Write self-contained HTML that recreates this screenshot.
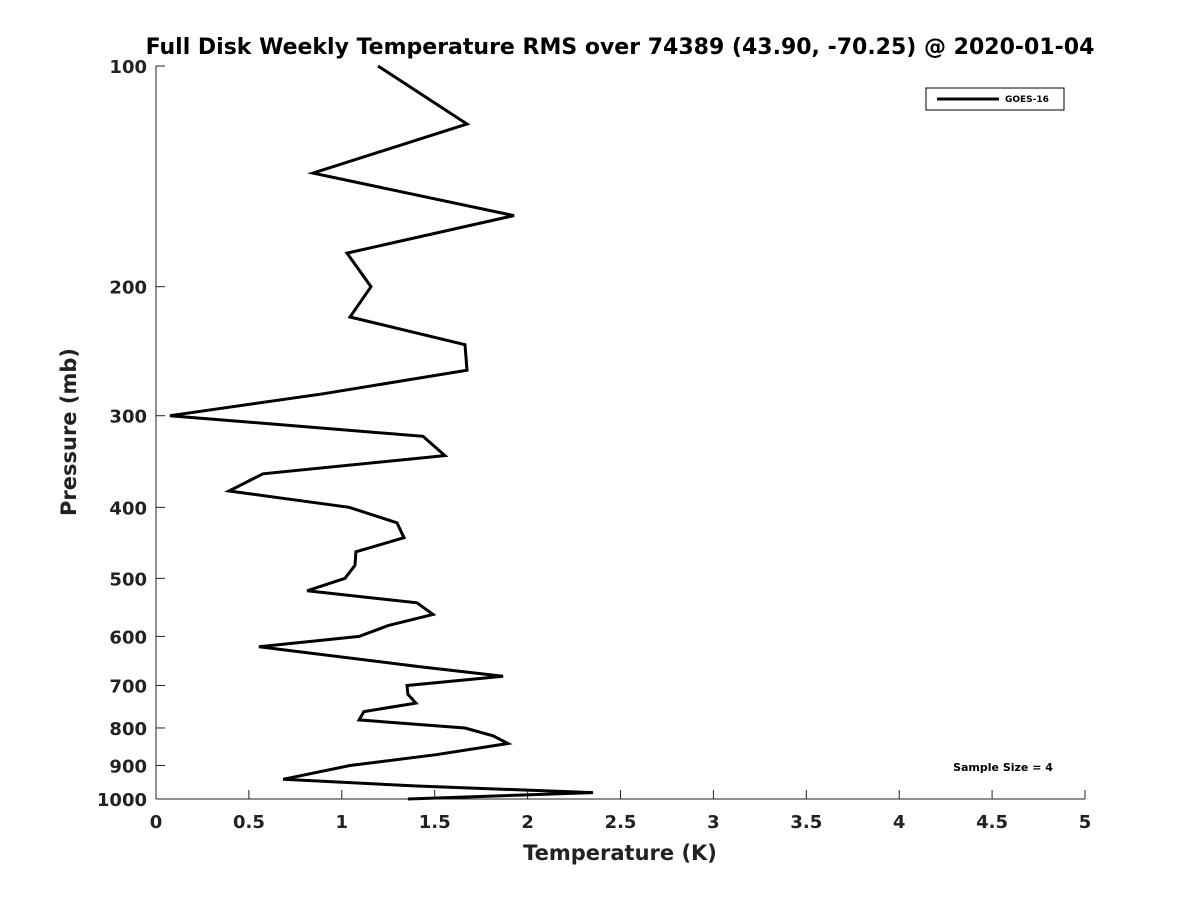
<!DOCTYPE html>
<html><head><meta charset="utf-8"><style>
body{margin:0;background:#fff}
svg{font-family:"DejaVu Sans","Liberation Sans",sans-serif;font-weight:bold}
</style></head><body>
<svg id="chart" width="1200" height="900" xmlns="http://www.w3.org/2000/svg">
<rect width="1200" height="900" fill="#fff"/>
<text x="620" y="54" text-anchor="middle" font-size="22" fill="#000">Full Disk Weekly Temperature RMS over 74389 (43.90, -70.25) @ 2020-01-04</text>
<g id="axes"></g>
<path id="series" fill="none" stroke="#000" stroke-width="3" stroke-linejoin="miter"/>
<g>
<rect x="926" y="88" width="138" height="22" fill="#fff" stroke="#000" stroke-width="1"/>
<line x1="937" y1="99" x2="999" y2="99" stroke="#000" stroke-width="3"/>
<text x="1005" y="102" font-size="9" fill="#000">GOES-16</text>
</g>
<text x="1003" y="771" text-anchor="middle" font-size="11" fill="#000">Sample Size = 4</text>
<text x="620" y="860" text-anchor="middle" font-size="21" fill="#222">Temperature (K)</text>
<text transform="translate(76,432) rotate(-90)" text-anchor="middle" font-size="21" fill="#222">Pressure (mb)</text>
</svg>
<script>
const pressures=[100,120,140,160,180,200,220,240,260,280,300,320,340,360,380,400,420,440,460,480,500,520,540,560,580,600,620,660,680,700,720,740,760,780,800,820,840,870,900,940,960,980,1000];
const temps=[1.195,1.674,0.845,1.927,1.028,1.157,1.044,1.663,1.674,0.899,0.075,1.437,1.555,0.576,0.393,1.039,1.297,1.335,1.076,1.071,1.017,0.813,1.405,1.491,1.249,1.093,0.554,1.421,1.868,1.351,1.356,1.399,1.119,1.093,1.663,1.814,1.894,1.507,1.044,0.684,1.405,2.352,1.356];
const xTicks=[0,0.5,1,1.5,2,2.5,3,3.5,4,4.5,5];
const xTickLabels=["0","0.5","1","1.5","2","2.5","3","3.5","4","4.5","5"];
const yTicks=[100,200,300,400,500,600,700,800,900,1000];
const yTickLabels=["100","200","300","400","500","600","700","800","900","1000"];
const L=156,R=1085,T=66,B=799;
const xs=v=>L+(v-0)/(5-0)*(R-L);
const ys=p=>T+(Math.log10(p)-2)/1*(B-T);
const NS="http://www.w3.org/2000/svg";
const ax=document.getElementById('axes');
function mk(tag,attrs,txt){const e=document.createElementNS(NS,tag);for(const k in attrs)e.setAttribute(k,attrs[k]);if(txt!==undefined)e.textContent=txt;ax.appendChild(e);return e;}
let e=mk('line',{x1:L,y1:B,x2:R,y2:B,stroke:'#222','stroke-width':1});


e=mk('line',{x1:L,y1:T,x2:L,y2:B,stroke:'#222','stroke-width':1});


xTicks.forEach((v,i)=>{const x=xs(v);
 let t=mk('line',{x1:x,y1:B,x2:x,y2:B-9,stroke:'#222','stroke-width':1});
 
 
 let l=mk('text',{x:x,y:B+29,'text-anchor':'middle','font-size':18,fill:'#222'},xTickLabels[i]);
 
 
});
yTicks.forEach((v,i)=>{const y=ys(v);
 let t=mk('line',{x1:L,y1:y,x2:L+9,y2:y,stroke:'#222','stroke-width':1});
 
 
 let l=mk('text',{x:L-9,y:y+7,'text-anchor':'end','font-size':18,fill:'#222'},yTickLabels[i]);
 
 
});
document.getElementById('series').setAttribute('d',pressures.map((p,i)=>(i?'L':'M')+xs(temps[i]).toFixed(1)+','+ys(p).toFixed(1)).join(' '));
</script>
</body></html>
